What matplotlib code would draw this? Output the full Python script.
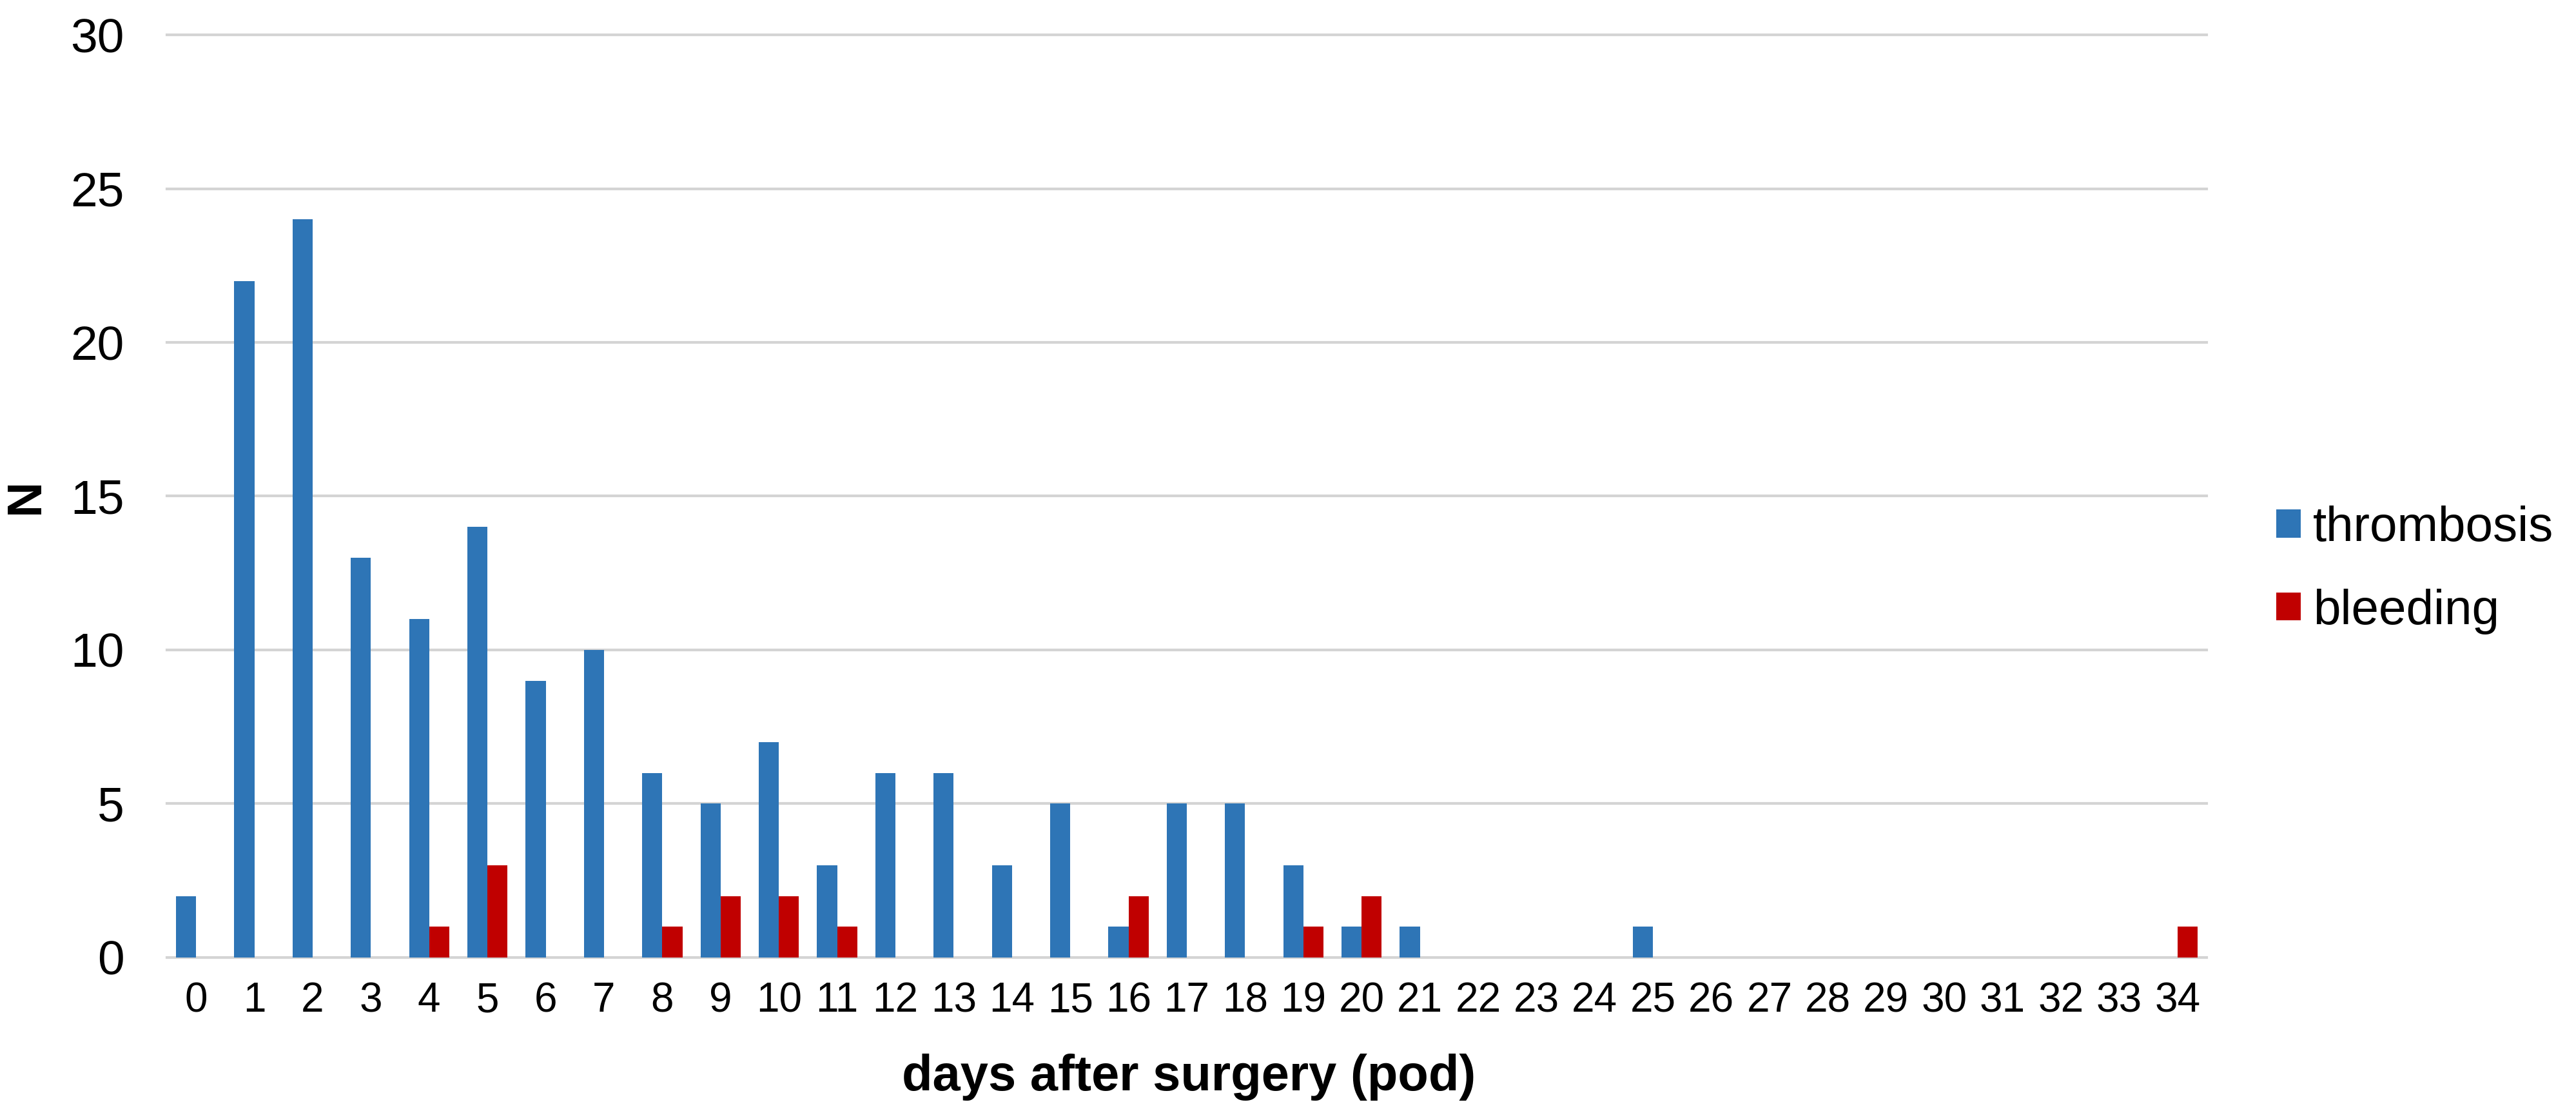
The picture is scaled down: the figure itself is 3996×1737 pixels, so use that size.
#-----Thrombosis / bleeding events by post-operative day
import numpy as np
import matplotlib
matplotlib.use("Agg")
import matplotlib.pyplot as plt
from matplotlib.patches import Patch

plt.rcParams['font.family'] = ['Liberation Sans', 'DejaVu Sans']

#-----Data
days = list(range(0, 35))
thrombosis = [2, 22, 24, 13, 11, 14, 9, 10, 6, 5, 7, 3, 6, 6, 3, 5, 1, 5, 5, 3, 1, 1,
              0, 0, 0, 1, 0, 0, 0, 0, 0, 0, 0, 0, 0]
bleeding = [0, 0, 0, 0, 1, 3, 0, 0, 1, 2, 2, 1, 0, 0, 0, 0, 2, 0, 0, 1, 2, 0,
            0, 0, 0, 0, 0, 0, 0, 0, 0, 0, 0, 0, 1]
series_names = ['thrombosis', 'bleeding']
series_colors = ['#2E75B6', '#C00000']
yticks = [0, 5, 10, 15, 20, 25, 30]

#-----Figure
fig = plt.figure(figsize=(39.96, 17.37), dpi=100)
ax = fig.add_axes([0.0648, 0.1451, 0.7918, 0.8238])

x = np.arange(len(days))
w = 0.345
ax.bar(x - w / 2, thrombosis, width=w, color=series_colors[0], zorder=3)
ax.bar(x + w / 2, bleeding, width=w, color=series_colors[1], zorder=3)

ax.set_xlim(-0.5, len(days) - 0.5)
ax.set_ylim(0, 30)
ax.set_xticks(x)
ax.set_xticklabels([str(d) for d in days])
ax.set_yticks(yticks)
ax.tick_params(axis='x', length=0, pad=27, labelsize=46)
ax.tick_params(axis='y', length=0, pad=48, labelsize=54)

# gridlines like excel
ax.yaxis.grid(True, color='#D4D4D4', linewidth=3)
ax.set_axisbelow(True)
for gl in ax.get_ygridlines():
    gl.set_clip_on(False)
for s in ['top', 'right', 'left', 'bottom']:
    ax.spines[s].set_visible(False)

# axis labels
ax.set_xlabel('days after surgery (pod)', fontsize=56, fontweight='bold')
ax.xaxis.label.set_va('center')
ax.xaxis.set_label_coords(0.501, -0.13)
ax.set_ylabel('N', fontsize=55, fontweight='bold')
ax.yaxis.label.set_va('center')
ax.yaxis.set_label_coords(-0.069, 0.5)

# legend on the right
handles = [Patch(facecolor=c, edgecolor='none') for c in series_colors]
fig.legend(handles, series_names, loc='center left',
           bbox_to_anchor=(3531 / 3996, 1 - 884 / 1737),
           frameon=False, fontsize=55, borderpad=0, borderaxespad=0,
           handlelength=0.5, handleheight=0.5, handletextpad=0.25,
           labelspacing=0.75)

fig.savefig('out.png', dpi=100)
